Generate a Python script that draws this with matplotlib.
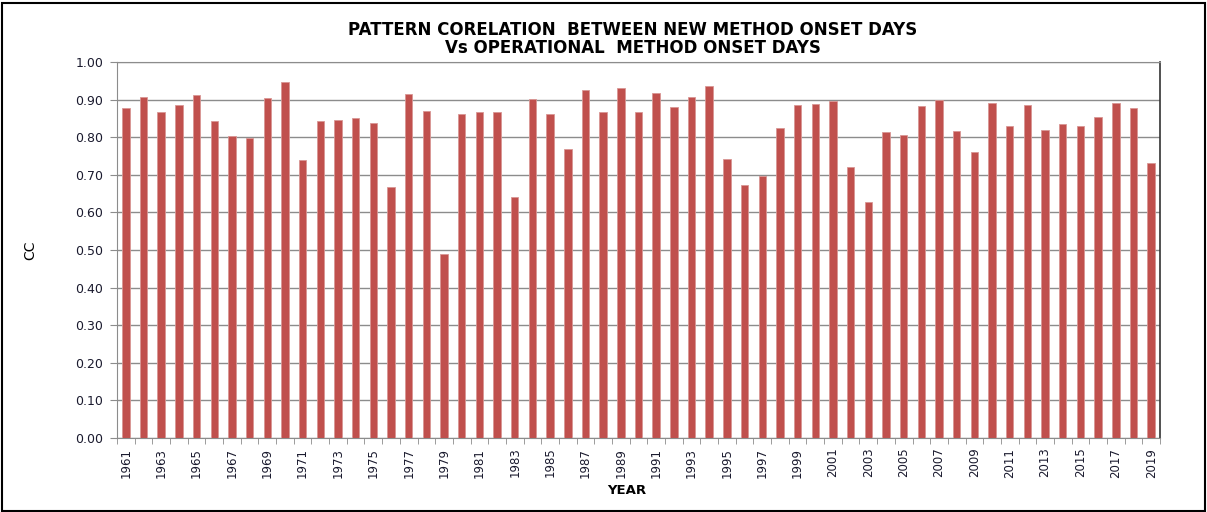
import matplotlib
matplotlib.use("Agg")
import matplotlib.pyplot as plt
import numpy as np

years = list(range(1961, 2020))
cc = [0.877, 0.908, 0.868, 0.886, 0.913, 0.844, 0.804, 0.797, 0.905, 0.947,
      0.740, 0.844, 0.847, 0.850, 0.839, 0.668, 0.916, 0.870, 0.489, 0.861,
      0.868, 0.867, 0.642, 0.902, 0.862, 0.769, 0.926, 0.867, 0.931, 0.868,
      0.918, 0.880, 0.906, 0.935, 0.743, 0.672, 0.696, 0.825, 0.886, 0.888,
      0.897, 0.721, 0.627, 0.813, 0.805, 0.883, 0.900, 0.817, 0.761, 0.891,
      0.830, 0.886, 0.819, 0.835, 0.829, 0.854, 0.892, 0.877, 0.732]
yticks = [0.0, 0.1, 0.2, 0.3, 0.4, 0.5, 0.6, 0.7, 0.8, 0.9, 1.0]

plt.rcParams['font.family'] = ['DejaVu Sans']

fig = plt.figure(figsize=(12.07, 5.12), dpi=100)
ax = fig.add_axes([117/1207, 1 - 438/512, (1160-117)/1207, (438-62)/512])

x = np.arange(len(years))
ax.bar(x, cc, width=0.42, color='#C0504D', edgecolor='#D99694', linewidth=0.6, zorder=3)

ax.set_xlim(-0.5, len(years) - 0.5)
ax.set_ylim(0, 1.0)
ax.set_yticks(yticks)
ax.set_yticklabels([f"{v:.2f}" for v in yticks], fontsize=9, color='#1a1a2e')
ax.yaxis.grid(True, color='#8C8C8C', linewidth=1.0, zorder=0)
ax.tick_params(axis='y', length=5, color='#8C8C8C', direction='out', pad=5)

ax.set_xticks(x[::2])
ax.set_xticklabels([str(y) for y in years[::2]], rotation=90, fontsize=8.5, color='#1a1a2e')
ax.tick_params(axis='x', which='major', length=0, pad=7)
ax.set_xticks(np.arange(-0.5, len(years), 1.0), minor=True)
ax.tick_params(axis='x', which='minor', length=4, color='#8C8C8C', direction='out')

for s in ['left', 'bottom', 'top']:
    ax.spines[s].set_color('#8C8C8C')
ax.spines['right'].set_color('#333333')
ax.spines['right'].set_linewidth(1.2)

ax.set_ylabel('CC', fontsize=10, va='center')
ax.yaxis.set_label_coords((30 - 117) / 1043, 0.5)
ax.set_xlabel('YEAR', fontsize=9.5, fontweight='bold', va='center')
ax.xaxis.set_label_coords((627 - 117) / 1043, (438 - 491) / 376)

fig.text(633/1207, 1 - 30/512, 'PATTERN CORELATION  BETWEEN NEW METHOD ONSET DAYS',
         ha='center', va='center', fontsize=12, fontweight='bold')
fig.text(633/1207, 1 - 48/512, 'Vs OPERATIONAL  METHOD ONSET DAYS',
         ha='center', va='center', fontsize=12, fontweight='bold')

# outer frame
fig.patches.append(plt.Rectangle((0.002, 0.002), 0.996, 0.993, transform=fig.transFigure,
                                 fill=False, edgecolor='black', linewidth=1.5))

fig.savefig('out.png', dpi=100)
